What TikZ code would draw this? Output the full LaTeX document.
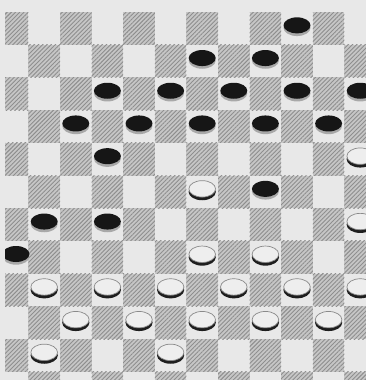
\documentclass[tikz,border=0pt]{standalone}
\usetikzlibrary{patterns.meta}
\definecolor{bgcol}{HTML}{E8E8E8}
\definecolor{sqfill}{HTML}{C6C6C6}
\definecolor{hatch}{HTML}{8E8E8E}
\definecolor{btop}{HTML}{161616}
\definecolor{bside}{HTML}{A8A8A8}
\definecolor{wtop}{HTML}{EEEEEE}
\definecolor{wedge}{HTML}{8A8A8A}
\definecolor{wside}{HTML}{1E1E1E}
\tikzset{
  darksq/.style={fill=sqfill, postaction={pattern={Lines[angle=45,distance=3pt,line width=0.9pt]}, pattern color=hatch}},
  bpiece/.pic={
    \fill[bside] (0,2.5) ellipse [x radius=13.5pt, y radius=8.2pt];
    \fill[btop] (0,0) ellipse [x radius=13.5pt, y radius=8pt];
  },
  wpiece/.pic={
    \fill[wside] (0,3) ellipse [x radius=13.6pt, y radius=8.4pt];
    \filldraw[fill=wtop, draw=wedge, line width=0.7pt] (0,0) ellipse [x radius=13.3pt, y radius=8.2pt];
  }
}
\begin{document}
\begin{tikzpicture}[x=1pt,y=-1pt]
  \fill[bgcol] (0,0) rectangle (366,380);
  \useasboundingbox (0,0) rectangle (366,380);
  \begin{scope}
    \clip (5,12) rectangle (366,380);
    \foreach \r in {0,...,11}{
      \foreach \c in {0,...,11}{
        \pgfmathtruncatemacro\s{\r+\c}
        \ifodd\s\else
          \pgfmathsetmacro\xa{-3.2+31.6*\c}
          \pgfmathsetmacro\ya{12+32.7*\r}
          \path[darksq] (\xa,\ya) rectangle ++(31.6,32.7);
        \fi
      }
    }
    % black pieces (row/col)
    \foreach \r/\c in {0/9,1/6,1/8,2/3,2/5,2/7,2/9,2/11,3/2,3/4,3/6,3/8,3/10,4/3,5/8,6/1,6/3}{
      \pgfmathsetmacro\px{12.6+31.6*\c}
      \pgfmathsetmacro\py{25.35+32.7*\r}
      \pic (b\r-\c) at (\px,\py) {bpiece};
    }
    \pic (b7-0) at (16,254) {bpiece};
    % white pieces
    \foreach \r/\c in {4/11,5/6,6/11,7/6,7/8,8/1,8/3,8/5,8/7,8/9,8/11,9/2,9/4,9/6,9/8,9/10,10/1,10/5}{
      \pgfmathsetmacro\px{12.6+31.6*\c}
      \pgfmathsetmacro\py{25.35+32.7*\r}
      \pic (w\r-\c) at (\px,\py) {wpiece};
    }
  \end{scope}
\end{tikzpicture}
\end{document}
